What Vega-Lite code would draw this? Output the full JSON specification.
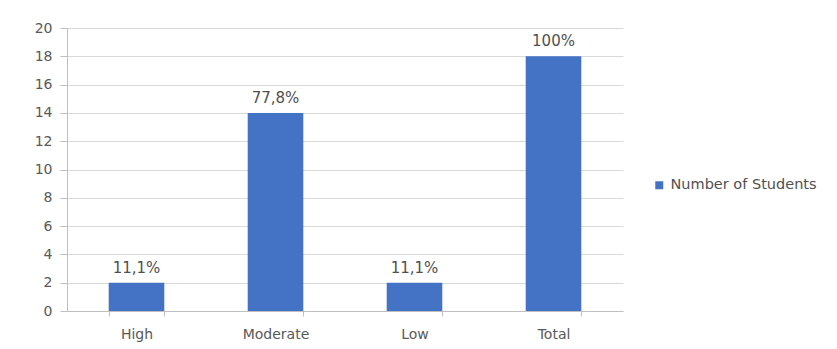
{
  "$schema": "https://vega.github.io/schema/vega-lite/v6.json",
  "autosize": {"type": "none"},
  "width": 556,
  "height": 283,
  "padding": {"left": 67, "top": 28, "right": 214, "bottom": 38},
  "background": "white",
  "config": {
    "view": {"stroke": null},
    "font": "DejaVu Sans",
    "axis": {"labelFont": "DejaVu Sans", "labelFontSize": 14, "labelColor": "#595959", "domainColor": "#bfbfbf", "tickColor": "#bfbfbf", "gridColor": "#d9d9d9"}
  },
  "data": {
    "values": [
      {"level": "High", "students": 2, "pct": "11,1%", "series": "Number of Students"},
      {"level": "Moderate", "students": 14, "pct": "77,8%", "series": "Number of Students"},
      {"level": "Low", "students": 2, "pct": "11,1%", "series": "Number of Students"},
      {"level": "Total", "students": 18, "pct": "100%", "series": "Number of Students"}
    ]
  },
  "encoding": {
    "x": {
      "field": "level", "type": "nominal", "sort": null,
      "scale": {"paddingInner": 0.6, "paddingOuter": 0.3},
      "axis": {"title": null, "labelAngle": 0, "tickBand": "extent", "tickSize": 5, "labelPadding": 11, "grid": false}
    },
    "y": {
      "field": "students", "type": "quantitative",
      "scale": {"domain": [0, 20]},
      "axis": {"title": null, "values": [0,2,4,6,8,10,12,14,16,18,20], "tickSize": 7, "labelPadding": 8, "grid": true, "domain": true}
    }
  },
  "layer": [
    {
      "mark": {"type": "bar"},
      "encoding": {
        "color": {
          "field": "series", "type": "nominal",
          "scale": {"range": ["#4472C4"]},
          "legend": {"title": null, "orient": "none", "legendX": 585, "legendY": 150, "symbolType": "square", "symbolSize": 64, "labelFontSize": 14.5, "labelColor": "#505050", "labelFont": "DejaVu Sans"}
        }
      }
    },
    {
      "mark": {"type": "text", "baseline": "bottom", "dy": -7, "fontSize": 15, "color": "#505050", "font": "DejaVu Sans"},
      "encoding": {"text": {"field": "pct"}}
    }
  ]
}
